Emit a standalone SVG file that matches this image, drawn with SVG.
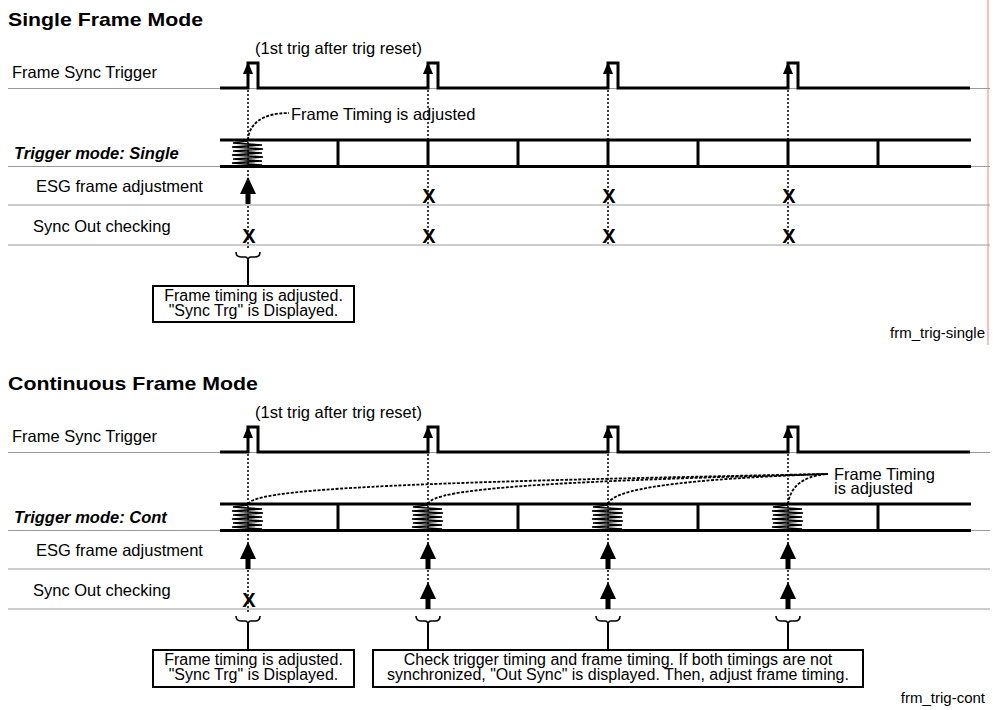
<svg xmlns="http://www.w3.org/2000/svg" xmlns:xlink="http://www.w3.org/1999/xlink" width="993" height="710" viewBox="0 0 993 710">
<style>
.lbl{font-family:"Liberation Sans",Arial,sans-serif;font-size:16.5px;fill:#000}
.bx{font-family:"Liberation Sans",Arial,sans-serif;font-size:16px;fill:#000;text-anchor:middle}
.bi{font-weight:bold;font-style:italic}
.ttl{font-family:"Liberation Sans",Arial,sans-serif;font-size:19px;font-weight:bold;fill:#000}
.sm{font-family:"Liberation Sans",Arial,sans-serif;font-size:15px;fill:#000}
.xm{font-family:"Liberation Sans",Arial,sans-serif;font-size:20px;font-weight:bold;fill:#000;text-anchor:middle}
.grid{stroke:#9a9a9a;stroke-width:1;fill:none}
.sig{stroke:#000;stroke-width:3;fill:none}
.tick{stroke:#000;stroke-width:3}
.dot{stroke:#000;stroke-width:1.5;stroke-dasharray:2 2;fill:none}
.curve{stroke:#000;stroke-width:1.8;stroke-dasharray:3 1.5;fill:none}
.box{fill:#fff;stroke:#000;stroke-width:2}
.br{stroke:#000;stroke-width:1.6;fill:none}
.stem{stroke:#000;stroke-width:2}
.zz{stroke:#000;stroke-width:1.6;fill:none}
</style>
<defs>
<path id="upArrow" d="M0,0 L8,17 L2.5,17 L2.5,27 L-2.5,27 L-2.5,17 L-8,17 Z" fill="#000"/>
<path id="pulseHead" d="M0,0 L5,12 L-5,12 Z" fill="#000"/>
<polyline id="zz" class="zz" points="0,1 -15,3 14,5 -16,7 15,9 -15,11 14,13 -16,15 15,17 -15,19 14,21 -16,23 14,25 0,26"/>
<path id="brace" class="br" d="M-12,-5 Q-12,0 -7,0 L-3,0 Q0,0 0,4 Q0,0 3,0 L7,0 Q12,0 12,-5"/>
</defs>

<line x1="988" y1="0" x2="988" y2="345" stroke="#f08080" stroke-width="1"/>

<!-- ===== Single Frame Mode ===== -->
<g id="single-title"><text class="ttl" x="8" y="26" textLength="195" lengthAdjust="spacingAndGlyphs">Single Frame Mode</text></g>

<g id="single-grid">
<line class="grid" x1="8" y1="88.5" x2="990" y2="88.5"/>
<line class="grid" x1="8" y1="166.5" x2="990" y2="166.5"/>
<line class="grid" x1="8" y1="205" x2="990" y2="205"/>
<line class="grid" x1="8" y1="245" x2="990" y2="245"/>
</g>

<g id="single-labels">
<text class="lbl" x="12" y="78">Frame Sync Trigger</text>
<text class="lbl bi" x="14" y="159">Trigger mode: Single</text>
<text class="lbl" x="36" y="192">ESG frame adjustment</text>
<text class="lbl" x="33" y="232">Sync Out checking</text>
<text class="lbl" x="255" y="54">(1st trig after trig reset)</text>
<text class="lbl" x="291" y="120">Frame Timing is adjusted</text>
</g>

<g id="single-trigger">
<path class="sig" d="M220,88 H248 V63 H258 V88 H428 V63 H438 V88 H608 V63 H618 V88 H788 V63 H798 V88 H970"/>
<use xlink:href="#pulseHead" href="#pulseHead" x="248" y="62"/>
<use xlink:href="#pulseHead" href="#pulseHead" x="428" y="62"/>
<use xlink:href="#pulseHead" href="#pulseHead" x="608" y="62"/>
<use xlink:href="#pulseHead" href="#pulseHead" x="788" y="62"/>
</g>

<g id="single-frames">
<line class="tick" x1="220" y1="140" x2="971" y2="140"/>
<line class="tick" x1="220" y1="166.5" x2="971" y2="166.5"/>
<line class="tick" x1="338" y1="140" x2="338" y2="166"/>
<line class="tick" x1="428" y1="140" x2="428" y2="166"/>
<line class="tick" x1="518" y1="140" x2="518" y2="166"/>
<line class="tick" x1="608" y1="140" x2="608" y2="166"/>
<line class="tick" x1="698" y1="140" x2="698" y2="166"/>
<line class="tick" x1="788" y1="140" x2="788" y2="166"/>
<line class="tick" x1="878" y1="140" x2="878" y2="166"/>
<use xlink:href="#zz" href="#zz" x="248" y="140"/>
</g>

<g id="connectors-single">
<line class="dot" x1="248" y1="90" x2="248" y2="248"/>
<line class="dot" x1="428" y1="90" x2="428" y2="245"/>
<line class="dot" x1="608" y1="90" x2="608" y2="245"/>
<line class="dot" x1="788" y1="90" x2="788" y2="245"/>
<path class="curve" d="M248,140 C249,124 262,113 289,113"/>
<use xlink:href="#brace" href="#brace" x="248" y="257"/>
<line class="stem" x1="248" y1="260" x2="248" y2="286"/>
</g>

<g id="single-marks">
<use xlink:href="#upArrow" href="#upArrow" x="248" y="177"/>
<text class="xm" x="429" y="203">X</text>
<text class="xm" x="609" y="203">X</text>
<text class="xm" x="789" y="203">X</text>
<text class="xm" x="249" y="243">X</text>
<text class="xm" x="429" y="243">X</text>
<text class="xm" x="609" y="243">X</text>
<text class="xm" x="789" y="243">X</text>
</g>

<g id="single-box">
<rect class="box" x="153" y="286" width="201" height="36"/>
<text class="bx" x="253.5" y="301">Frame timing is adjusted.</text>
<text class="bx" x="253.5" y="316">"Sync Trg" is Displayed.</text>
</g>
<g id="single-fig"><text class="sm" x="985" y="338" text-anchor="end">frm_trig-single</text></g>

<!-- ===== Continuous Frame Mode ===== -->
<g id="cont-title"><text class="ttl" x="8" y="390" textLength="250" lengthAdjust="spacingAndGlyphs">Continuous Frame Mode</text></g>

<g id="cont-grid">
<line class="grid" x1="8" y1="452.5" x2="990" y2="452.5"/>
<line class="grid" x1="8" y1="530.5" x2="990" y2="530.5"/>
<line class="grid" x1="8" y1="569" x2="990" y2="569"/>
<line class="grid" x1="8" y1="609" x2="990" y2="609"/>
</g>

<g id="cont-labels">
<text class="lbl" x="12" y="442">Frame Sync Trigger</text>
<text class="lbl bi" x="14" y="523">Trigger mode: Cont</text>
<text class="lbl" x="36" y="556">ESG frame adjustment</text>
<text class="lbl" x="33" y="596">Sync Out checking</text>
<text class="lbl" x="255" y="418">(1st trig after trig reset)</text>
<text class="lbl" x="834" y="480">Frame Timing</text>
<text class="lbl" x="834" y="494">is adjusted</text>
</g>

<g id="cont-trigger">
<path class="sig" d="M220,452 H248 V427 H258 V452 H428 V427 H438 V452 H608 V427 H618 V452 H788 V427 H798 V452 H970"/>
<use xlink:href="#pulseHead" href="#pulseHead" x="248" y="426"/>
<use xlink:href="#pulseHead" href="#pulseHead" x="428" y="426"/>
<use xlink:href="#pulseHead" href="#pulseHead" x="608" y="426"/>
<use xlink:href="#pulseHead" href="#pulseHead" x="788" y="426"/>
</g>

<g id="cont-frames">
<line class="tick" x1="220" y1="504" x2="971" y2="504"/>
<line class="tick" x1="220" y1="530.5" x2="971" y2="530.5"/>
<line class="tick" x1="338" y1="504" x2="338" y2="530"/>
<line class="tick" x1="518" y1="504" x2="518" y2="530"/>
<line class="tick" x1="698" y1="504" x2="698" y2="530"/>
<line class="tick" x1="878" y1="504" x2="878" y2="530"/>
<use xlink:href="#zz" href="#zz" x="248" y="504"/>
<use xlink:href="#zz" href="#zz" x="428" y="504"/>
<use xlink:href="#zz" href="#zz" x="608" y="504"/>
<use xlink:href="#zz" href="#zz" x="788" y="504"/>
</g>

<g id="connectors-cont">
<line class="dot" x1="248" y1="454" x2="248" y2="612"/>
<line class="dot" x1="428" y1="454" x2="428" y2="609"/>
<line class="dot" x1="608" y1="454" x2="608" y2="609"/>
<line class="dot" x1="788" y1="454" x2="788" y2="609"/>
<path class="curve" d="M248,504 C255,488 420,482 828,474"/>
<path class="curve" d="M428,504 C432,488 560,481 828,474"/>
<path class="curve" d="M608,504 C612,489 680,479 828,474"/>
<path class="curve" d="M788,504 C790,489 800,476 828,474"/>
<use xlink:href="#brace" href="#brace" x="248" y="621"/>
<use xlink:href="#brace" href="#brace" x="428" y="621"/>
<use xlink:href="#brace" href="#brace" x="608" y="621"/>
<use xlink:href="#brace" href="#brace" x="788" y="621"/>
<line class="stem" x1="248" y1="624" x2="248" y2="650"/>
<line class="stem" x1="428" y1="624" x2="428" y2="650"/>
<line class="stem" x1="608" y1="624" x2="608" y2="650"/>
<line class="stem" x1="788" y1="624" x2="788" y2="650"/>
</g>

<g id="cont-marks">
<use xlink:href="#upArrow" href="#upArrow" x="248" y="542"/>
<use xlink:href="#upArrow" href="#upArrow" x="428" y="542"/>
<use xlink:href="#upArrow" href="#upArrow" x="608" y="542"/>
<use xlink:href="#upArrow" href="#upArrow" x="788" y="542"/>
<text class="xm" x="249" y="607">X</text>
<use xlink:href="#upArrow" href="#upArrow" x="428" y="582"/>
<use xlink:href="#upArrow" href="#upArrow" x="608" y="582"/>
<use xlink:href="#upArrow" href="#upArrow" x="788" y="582"/>
</g>

<g id="cont-box1">
<rect class="box" x="153" y="650" width="201" height="37"/>
<text class="bx" x="253.5" y="665">Frame timing is adjusted.</text>
<text class="bx" x="253.5" y="680">"Sync Trg" is Displayed.</text>
</g>
<g id="cont-box2">
<rect class="box" x="373" y="650" width="490" height="37"/>
<text class="bx" x="618" y="665">Check trigger timing and frame timing. If both timings are not</text>
<text class="bx" x="618" y="680">synchronized, "Out Sync" is displayed. Then, adjust frame timing.</text>
</g>
<g id="cont-fig"><text class="sm" x="985" y="703" text-anchor="end">frm_trig-cont</text></g>
</svg>
